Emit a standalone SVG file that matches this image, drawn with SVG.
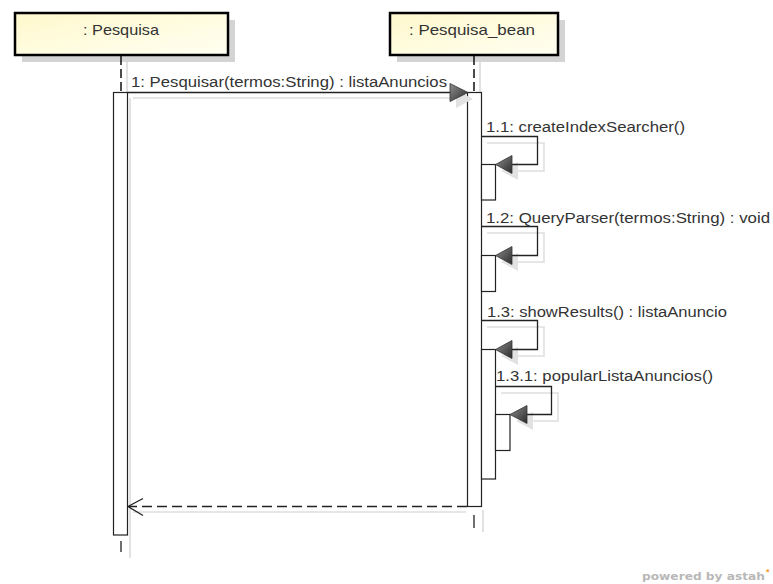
<svg xmlns="http://www.w3.org/2000/svg" width="773" height="584" viewBox="0 0 773 584">
<style>
.hdr{fill:url(#hg);stroke:#000;stroke-width:2.5}
.hsh{fill:#d4d4d4}
.htxt{font-family:"Liberation Sans",Arial,sans-serif;font-size:15px;fill:#333;text-anchor:middle}
.msg{font-family:"Liberation Sans",Arial,sans-serif;font-size:14px;fill:#333}
.ll{stroke:#111;stroke-width:1.5;stroke-dasharray:9,4;fill:none}
.llsh{stroke:#e2e2e2;stroke-width:2;fill:none}
.bar{fill:#fff;stroke:#222;stroke-width:1.2}
.line{stroke:#222;stroke-width:1.3;fill:none}
.sh{stroke:#dedede;stroke-width:1.5;fill:none}
.ah{fill:url(#ag);stroke:#333;stroke-width:0.8}
.ahsh{fill:#e2e2e2}
</style>
<defs>
<linearGradient id="hg" x1="0" y1="0" x2="1" y2="1">
<stop offset="0" stop-color="#fff8cc"/>
<stop offset="1" stop-color="#fffff2"/>
</linearGradient>
<linearGradient id="ag" x1="0" y1="0" x2="1" y2="1">
<stop offset="0" stop-color="#909090"/>
<stop offset="1" stop-color="#2a2a2a"/>
</linearGradient>
</defs>

<g id="lifeline-pesquisa">
<rect class="hsh" x="22" y="20" width="213" height="42"/>
<rect class="hdr" x="15" y="13" width="213" height="42"/>
<text class="htxt" x="121" y="35" textLength="76" lengthAdjust="spacingAndGlyphs">: Pesquisa</text>
<line class="llsh" x1="127" y1="62" x2="127" y2="92"/>
<line class="ll" x1="121" y1="56" x2="121" y2="92"/>
<line class="llsh" x1="130" y1="98" x2="130" y2="558"/>
<rect class="bar" x="113.5" y="92.5" width="14" height="442.5"/>
<line class="line" x1="121" y1="541" x2="121" y2="552"/>
</g>

<g id="lifeline-pesquisa-bean">
<rect class="hsh" x="397" y="20" width="168" height="42"/>
<rect class="hdr" x="390" y="13" width="168" height="42"/>
<text class="htxt" x="472" y="35" textLength="126" lengthAdjust="spacingAndGlyphs">: Pesquisa_bean</text>
<line class="llsh" x1="480" y1="62" x2="480" y2="92"/>
<line class="ll" x1="474" y1="56" x2="474" y2="92"/>
<line class="llsh" x1="483" y1="510" x2="483" y2="532"/>
<rect class="bar" x="467.5" y="92.5" width="14" height="414"/>
<line class="line" x1="474" y1="515" x2="474" y2="528"/>
</g>

<g id="activation-1-1">
<rect class="bar" x="481.5" y="164.5" width="14" height="35.5"/>
</g>
<g id="activation-1-2">
<rect class="bar" x="481.5" y="255.5" width="14" height="36"/>
</g>
<g id="activation-1-3">
<rect class="bar" x="481.5" y="349.5" width="14" height="129.5"/>
</g>
<g id="activation-1-3-1">
<rect class="bar" x="495.5" y="414.5" width="14.5" height="36"/>
</g>

<g id="connectors">
<!-- 1: Pesquisar -->
<line class="sh" x1="133" y1="98" x2="455" y2="98"/>
<polygon class="ahsh" points="456,90 473,99 456,108"/>
<line class="line" x1="127.5" y1="92.5" x2="450" y2="92.5"/>
<polygon class="ah" points="450,83.5 468,92.5 450,101.5"/>
<text class="msg" x="131" y="87" textLength="316" lengthAdjust="spacingAndGlyphs">1: Pesquisar(termos:String) : listaAnuncios</text>

<!-- 1.1 -->
<polyline class="sh" points="487,143 544,143 544,171 517,171"/>
<polygon class="ahsh" points="501,171 518,162 518,180"/>
<polyline class="line" points="481.5,136.5 537.5,136.5 537.5,164.5 512,164.5"/>
<polygon class="ah" points="495.5,164.5 512,155.5 512,173.5"/>
<text class="msg" x="486" y="132" textLength="199" lengthAdjust="spacingAndGlyphs">1.1: createIndexSearcher()</text>

<!-- 1.2 -->
<polyline class="sh" points="487,233 544,233 544,262 517,262"/>
<polygon class="ahsh" points="501,262 518,253 518,271"/>
<polyline class="line" points="481.5,226.5 537.5,226.5 537.5,255.5 512,255.5"/>
<polygon class="ah" points="495.5,255.5 512,246.5 512,264.5"/>
<text class="msg" x="486" y="223" textLength="284" lengthAdjust="spacingAndGlyphs">1.2: QueryParser(termos:String) : void</text>

<!-- 1.3 -->
<polyline class="sh" points="487,327 544,327 544,356 517,356"/>
<polygon class="ahsh" points="501,356 518,347 518,365"/>
<polyline class="line" points="481.5,320.5 537.5,320.5 537.5,349.5 512,349.5"/>
<polygon class="ah" points="495.5,349.5 512,340.5 512,358.5"/>
<text class="msg" x="487" y="317" textLength="240" lengthAdjust="spacingAndGlyphs">1.3: showResults() : listaAnuncio</text>

<!-- 1.3.1 -->
<polyline class="sh" points="501,393 558,393 558,421 532,421"/>
<polygon class="ahsh" points="516,421 533,412 533,430"/>
<polyline class="line" points="495.5,386.5 551.5,386.5 551.5,414.5 527,414.5"/>
<polygon class="ah" points="510,414.5 527,405.5 527,423.5"/>
<text class="msg" x="496" y="381" textLength="217" lengthAdjust="spacingAndGlyphs">1.3.1: popularListaAnuncios()</text>

<!-- return -->
<line class="sh" x1="133" y1="512" x2="466" y2="512"/>
<line class="line" x1="467" y1="506.5" x2="129" y2="506.5" stroke-dasharray="10,5"/>
<polyline class="line" points="143,498.5 128,506.5 143,515.5"/>
</g>

<text x="642" y="580" font-family="'DejaVu Sans','Liberation Sans',sans-serif" font-size="11" font-weight="bold" fill="#b8b8b8" textLength="123" lengthAdjust="spacingAndGlyphs">powered by astah</text>
<text x="766" y="575" font-family="'Liberation Sans',sans-serif" font-size="9" font-weight="bold" fill="#f0a030">*</text>
</svg>
